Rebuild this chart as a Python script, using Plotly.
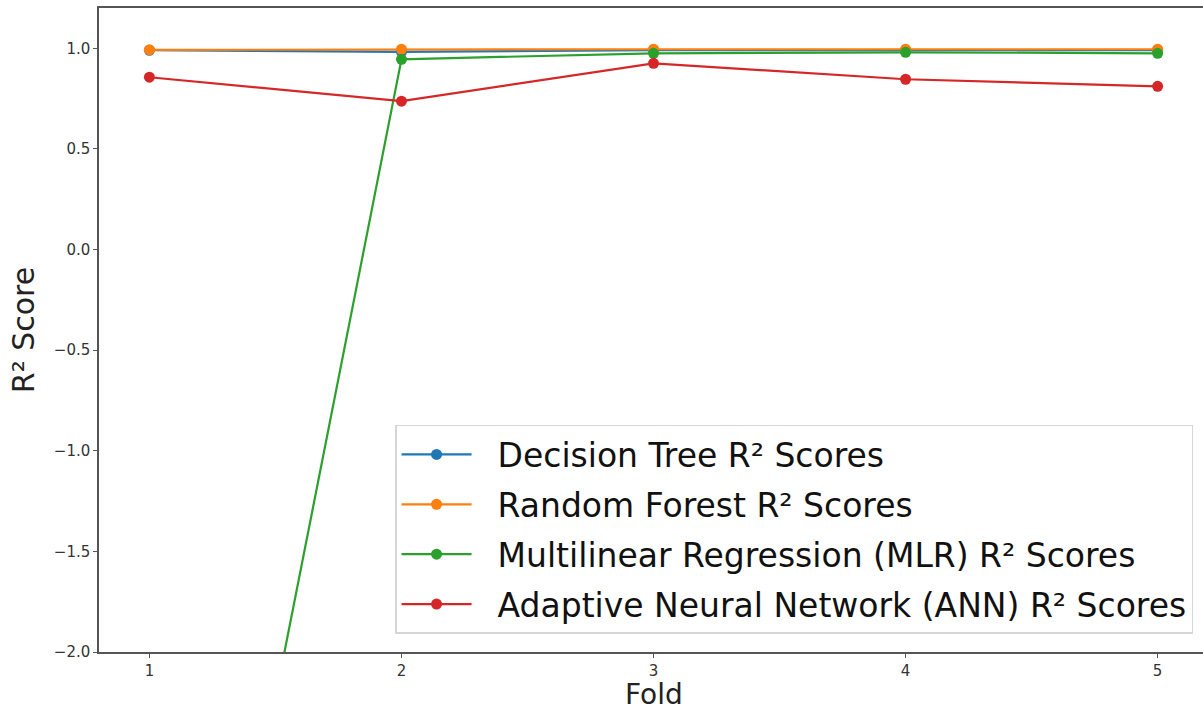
import plotly.graph_objects as go

folds = [1, 2, 3, 4, 5]
dt_scores = [0.99, 0.982, 0.99, 0.99, 0.99]
rf_scores = [0.992, 0.995, 0.995, 0.995, 0.995]
mlr_scores = [-5.4, 0.945, 0.975, 0.98, 0.975]
ann_scores = [0.856, 0.737, 0.925, 0.846, 0.811]

names = [
    "Decision Tree R² Scores",
    "Random Forest R² Scores",
    "Multilinear Regression (MLR) R² Scores",
    "Adaptive Neural Network (ANN) R² Scores",
]
colors = ["#1f77b4", "#ff7f0e", "#2ca02c", "#d62728"]
series = [dt_scores, rf_scores, mlr_scores, ann_scores]

fig = go.Figure()
for i, (nm, col, ys) in enumerate(zip(names, colors, series)):
    fig.add_trace(go.Scatter(
        x=folds, y=ys, name="\u00a0\u00a0" + nm, mode="lines+markers",
        line=dict(color=col, width=2.2),
        marker=dict(color=col, size=11),
        legendgroup=f"g{i}", cliponaxis=True,
    ))

fig.add_annotation(
    text="Fold", xref="x", x=3, yref="paper", y=0, yanchor="middle",
    yshift=-42, showarrow=False, font=dict(size=28, color="#222", family="DejaVu Sans"),
)

fig.update_layout(
    width=1203, height=712,
    margin=dict(l=99, r=0, t=8, b=60),
    paper_bgcolor="white", plot_bgcolor="white",
    font=dict(family="DejaVu Sans", color="#222"),
    showlegend=True,
    legend=dict(
        x=0.991, y=0.028, xanchor="right", yanchor="bottom",
        font=dict(size=33, family="DejaVu Sans", color="#111"),
        bgcolor="rgba(255,255,255,0.9)", bordercolor="#d6d6d6", borderwidth=1.5,
        tracegroupgap=4, itemwidth=70,
    ),
    xaxis=dict(
        range=[0.8, 5.18], tickvals=folds, ticktext=[str(f) for f in folds],
        showgrid=False, zeroline=False, showline=True, linecolor="#555", linewidth=1.5,
        mirror=True, ticks="outside", ticklen=4, tickcolor="#555",
        tickfont=dict(size=15, color="#333"),
    ),
    yaxis=dict(
        range=[-2.0, 1.2], tickvals=[-2.0, -1.5, -1.0, -0.5, 0.0, 0.5, 1.0],
        tickformat=".1f",
        showgrid=False, zeroline=False, showline=True, linecolor="#555", linewidth=1.5,
        mirror=False, ticks="outside", ticklen=4, tickcolor="#555",
        tickfont=dict(size=15, color="#333"),
        title=dict(text="R² Score", font=dict(size=30, color="#222"), standoff=10),
    ),
)

fig.write_html("out.html")
